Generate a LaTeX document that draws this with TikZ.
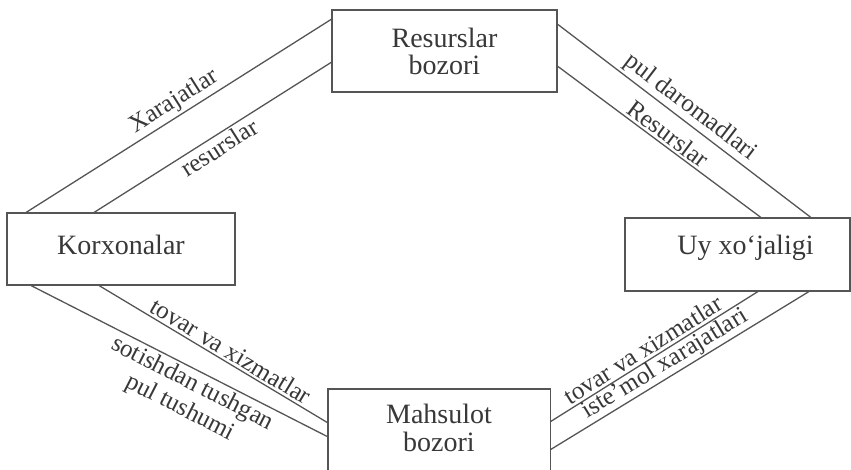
\documentclass[tikz,border=0pt]{standalone}
\usepackage{fontspec}
\setmainfont{Liberation Serif}
\definecolor{ink}{HTML}{383838}
\definecolor{wire}{HTML}{555555}
\begin{document}
\begin{tikzpicture}[x=1pt,y=-1pt,
  box/.style={draw=wire,line width=1.4pt,inner sep=0pt,text=ink,
    font=\fontsize{28}{27}\selectfont,align=center},
  boxline/.style={draw=wire,line width=1.4pt},
  flow/.style={draw=wire,line width=1.3pt},
  lab/.style={sloped,inner sep=2.5pt,text=ink,
    font=\fontsize{25}{27}\selectfont}]
\useasboundingbox (0,0) rectangle (851,470);
\fill[white] (0,0) rectangle (851,470);
\clip (0,0) rectangle (851,470);

% boxes
\node[box,minimum width=225pt,minimum height=82pt] (res) at (444.5,51) {Resurslar\\bozori};
\node[box,minimum width=228pt,minimum height=72pt,text depth=9pt] (kor) at (121,249) {Korxonalar};
\node[box,minimum width=225pt,minimum height=73pt,text height=19pt,text depth=18pt] (uy) at (737.5,254.5) {\hspace*{16pt}Uy xo‘jaligi};
\node[inner sep=0pt,text=ink,font=\fontsize{28}{28}\selectfont,align=center,
  minimum width=222pt,minimum height=78pt] (mah) at (439,428) {Mahsulot\\bozori};
\draw[boxline] ([yshift=-30pt]mah.south west) -- (mah.north west) -- (mah.north east) -- ([yshift=-30pt]mah.south east);

% attachment points
\coordinate (k1) at ([xshift=20pt]kor.north west);
\coordinate (k2) at ([xshift=88pt]kor.north west);
\coordinate (r1) at ([yshift=-10pt]res.north west);
\coordinate (r2) at ([yshift=-53pt]res.north west);
\coordinate (r3) at ([yshift=-15pt]res.north east);
\coordinate (r4) at ([yshift=-57pt]res.north east);
\coordinate (u3) at ([xshift=-40pt]uy.north east);
\coordinate (u4) at ([xshift=-90pt]uy.north east);
\coordinate (k5) at ([xshift=93pt]kor.south west);
\coordinate (k6) at ([xshift=25pt]kor.south west);
\coordinate (m5) at ([yshift=-34pt]mah.north west);
\coordinate (m6) at ([yshift=-48pt]mah.north west);
\coordinate (m7) at ([yshift=-33pt]mah.north east);
\coordinate (m8) at ([yshift=-61pt]mah.north east);
\coordinate (u7) at ([xshift=-93pt]uy.south east);
\coordinate (u8) at ([xshift=-42pt]uy.south east);

% flows
\draw[flow] (k1) -- node[lab,above,pos=0.51] {Xarajatlar} (r1);
\draw[flow] (k2) -- node[lab,below,pos=0.5] {resurslar} (r2);
\draw[flow] (r3) -- node[lab,above,pos=0.49] {pul daromadlari} (u3);
\draw[flow] (r4) -- node[lab,above,pos=0.51] {Resurslar} (u4);
\draw[flow] (k5) -- node[lab,above,pos=0.55] {tovar va xizmatlar} (m5);
\draw[flow] (k6) -- node[lab,below,pos=0.565,align=center] {sotishdan tushgan\\pul tushumi} (m6);
\draw[flow] (m7) -- node[lab,above,pos=0.477] {tovar va xizmatlar} (u7);
\draw[flow] (m8) -- node[lab,above,pos=0.472,inner sep=1pt] {iste’mol xarajatlari} (u8);
\end{tikzpicture}
\end{document}
